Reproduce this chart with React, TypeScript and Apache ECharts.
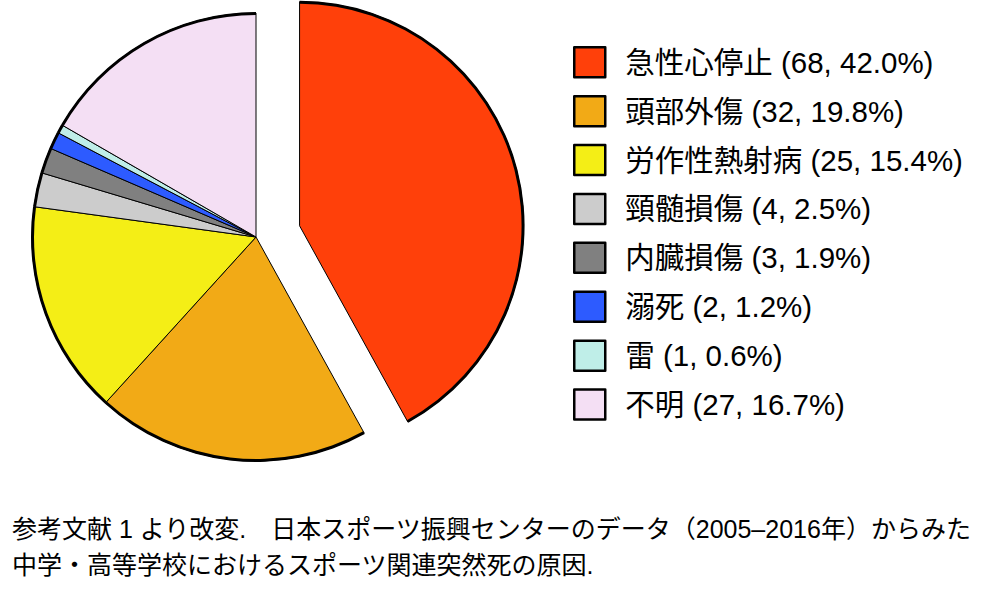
import React, { useEffect, useRef } from "react";
import * as echarts from "echarts";

const categories = ["急性心停止", "頭部外傷", "労作性熱射病", "頸髄損傷", "内臓損傷", "溺死", "雷", "不明"];
const counts = [68, 32, 25, 4, 3, 2, 1, 27];
const colors = ["#FF400A", "#F2AA16", "#F4EE16", "#CCCCCC", "#808080", "#2D5BFF", "#BFEEE8", "#F4DFF4"];
const captionLines = [
  "参考文献 1 より改変.　日本スポーツ振興センターのデータ（2005–2016年）からみた",
  "中学・高等学校におけるスポーツ関連突然死の原因.",
];

const LATIN = "'Liberation Sans', 'Noto Sans CJK JP', sans-serif";

export default function App() {
  const ref = useRef<HTMLDivElement>(null);
  useEffect(() => {
    if (!ref.current) return;
    const chart = echarts.init(ref.current, null, { renderer: "svg" });
    const total = counts.reduce((a, b) => a + b, 0);
    const data = categories.map((name, i) => ({
      name,
      value: counts[i],
      selected: i === 0,
      itemStyle: { color: colors[i] },
    }));
    const ringData = categories.map((name, i) => ({
      name,
      value: counts[i],
      selected: i === 0,
    }));
    chart.setOption({
      animation: false,
      legend: {
        orient: "vertical",
        left: 573,
        top: 46,
        padding: 0,
        icon: "rect",
        itemWidth: 31,
        itemHeight: 30,
        itemGap: 16.4,
        selectedMode: false,
        data: categories,
        itemStyle: { borderColor: "#000", borderWidth: 2.5 },
        textStyle: {
          fontFamily: LATIN,
          fontSize: 29.5,
          lineHeight: 30,
          color: "#000",
          padding: [0, 0, 0, 15],
        },
        formatter: (name: string) => {
          const i = categories.indexOf(name);
          const pct = ((counts[i] / total) * 100).toFixed(1);
          return `${name} (${counts[i]}, ${pct}%)`;
        },
      },
      graphic: captionLines.map((t, i) => ({
        type: "text",
        x: 12,
        y: 529 + i * 36,
        style: {
          text: t,
          fontFamily: LATIN,
          fontSize: 25,
          fill: "#000",
          verticalAlign: "middle",
        },
      })),
      series: [
        {
          type: "pie",
          center: [256, 237],
          radius: [0, 224],
          startAngle: 90,
          clockwise: true,
          selectedMode: "single",
          selectedOffset: 45,
          label: { show: false },
          labelLine: { show: false },
          emphasis: { disabled: true },
          itemStyle: { borderColor: "#000", borderWidth: 1 },
          data,
        },
        {
          type: "pie",
          center: [256, 237],
          radius: [222, 225],
          startAngle: 90,
          clockwise: true,
          selectedMode: "single",
          selectedOffset: 45,
          silent: true,
          label: { show: false },
          labelLine: { show: false },
          emphasis: { disabled: true },
          itemStyle: { color: "#000", borderWidth: 0 },
          data: ringData,
        },
      ],
    });
    return () => chart.dispose();
  }, []);
  return (
    <div
      ref={ref}
      style={{ position: "fixed", left: 0, top: 0, width: 1000, height: 595, background: "#fff" }}
    />
  );
}
